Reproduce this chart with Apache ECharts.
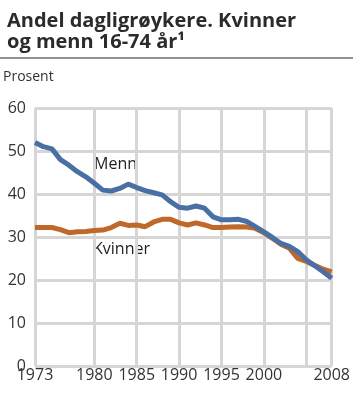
<!DOCTYPE html>
<html>
<head>
<meta charset="utf-8">
<script src="https://cdn.jsdelivr.net/npm/echarts@6/dist/echarts.min.js"></script>
<style>
  html, body { margin: 0; padding: 0; background: #fff; }
  #chart { width: 353px; height: 398px; }
</style>
</head>
<body>
<div id="chart"></div>
<script>
const years = [];
for (let y = 1973; y <= 2008; y++) years.push(String(y));

const menn = [52.0, 51.0, 50.5, 48.0, 46.7, 45.2, 44.0, 42.5, 40.9, 40.7, 41.3, 42.3,
  41.5, 40.8, 40.3, 39.8, 38.2, 36.9, 36.7, 37.2, 36.7, 34.7, 34.0, 34.0,
  34.1, 33.6, 32.4, 31.2, 29.9, 28.5, 27.8, 26.6, 24.7, 23.3, 21.9, 20.4];

const kvinner = [32.2, 32.2, 32.2, 31.7, 31.0, 31.2, 31.3, 31.5, 31.6, 32.2, 33.2, 32.7,
  32.8, 32.4, 33.5, 34.1, 34.1, 33.3, 32.8, 33.3, 32.8, 32.2, 32.2, 32.3,
  32.4, 32.3, 32.0, 31.0, 29.7, 28.3, 27.4, 25.0, 24.3, 23.4, 22.5, 21.9];

const gridYears = ['1973', '1980', '1985', '1990', '1995', '2000', '2005', '2008'];
const labelYears = ['1973', '1980', '1985', '1990', '1995', '2000', '2008'];

const chart = echarts.init(document.getElementById('chart'));

chart.setOption({
  animation: false,
  textStyle: { fontFamily: 'Open Sans' },
  grid: { left: 35, right: 18, top: 108, bottom: 32, containLabel: false },
  title: {
    text: 'Andel dagligrøykere. Kvinner\nog menn 16-74 år¹',
    left: 2, top: 6,
    textStyle: { fontSize: 20, fontWeight: 'bold', color: '#2b2b2b', lineHeight: 21, fontFamily: 'Open Sans' }
  },
  graphic: [
    { type: 'line', shape: { x1: 0, y1: 58, x2: 353, y2: 58 }, style: { stroke: '#222', lineWidth: 1 } },
    { type: 'text', left: 3, top: 70, style: { text: 'Prosent', fontSize: 14, fill: '#333', fontFamily: 'Open Sans' } },
    { type: 'text', left: 94, top: 156, style: { text: 'Menn', fontSize: 16, fill: '#222', fontFamily: 'Open Sans' } },
    { type: 'text', left: 93, top: 241, style: { text: 'Kvinner', fontSize: 16, fill: '#222', fontFamily: 'Open Sans' } }
  ],
  xAxis: {
    type: 'category',
    data: years,
    boundaryGap: false,
    axisLine: { show: false },
    axisTick: { show: false },
    axisLabel: {
      interval: (i, v) => labelYears.includes(v),
      fontSize: 16, color: '#333', margin: 1
    },
    splitLine: {
      show: true,
      interval: (i, v) => gridYears.includes(v),
      lineStyle: { color: '#d6d6d6', width: 3 }
    }
  },
  yAxis: {
    type: 'value',
    min: 0, max: 60, interval: 10,
    axisLine: { show: false },
    axisTick: { show: false },
    axisLabel: { fontSize: 16, color: '#333', margin: 9 },
    splitLine: { lineStyle: { color: '#d6d6d6', width: 3 } }
  },
  series: [
    {
      name: 'Kvinner', type: 'line', data: kvinner, symbol: 'none',
      lineStyle: { color: '#c0682a', width: 5 }
    },
    {
      name: 'Menn', type: 'line', data: menn, symbol: 'none',
      lineStyle: { color: '#4a6fa5', width: 5 }
    }
  ]
});
</script>
</body>
</html>
